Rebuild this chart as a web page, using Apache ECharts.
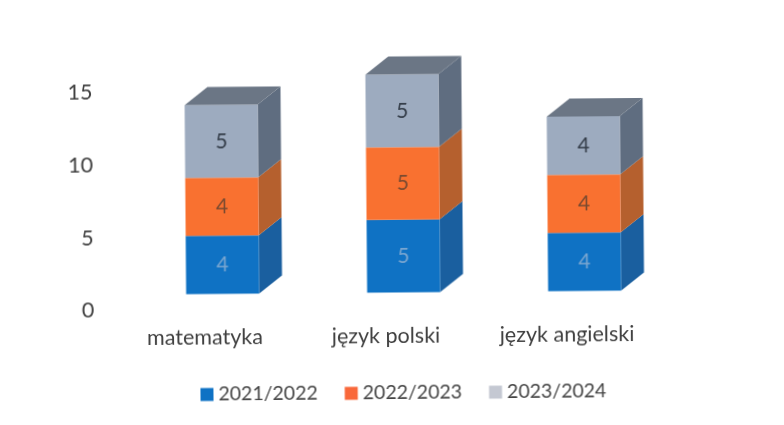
<!DOCTYPE html>
<html lang="pl" style="height: 100%">
<head>
<meta charset="utf-8">
<title>Wykres</title>
</head>
<body style="height: 100%; margin: 0; background: #fff">
<!-- the original is a slightly tilted scan -->
<div id="container" style="width: 784px; height: 425px; transform: rotate(-0.47deg)"></div>

<script type="text/javascript" src="https://cdn.jsdelivr.net/npm/echarts@6/dist/echarts.min.js"></script>
<script type="text/javascript">
var categories = ['matematyka', 'język polski', 'język angielski'];
var years = ['2021/2022', '2022/2023', '2023/2024'];
var values2122 = [4, 5, 4];
var values2223 = [4, 5, 4];
var values2324 = [5, 5, 4];

var seriesValues = [values2122, values2223, values2324];
var frontColors = ['#0f72c4', '#f97130', '#9dabbf'];
var sideColors = ['#1a5f9f', '#b5602e', '#5f6d80'];
var labelColors = ['#7aa6d0', '#7a4a30', '#333c48'];
var legendColors = ['#0f72c4', '#f9683a', '#c4c8d2'];
var topColor = '#6b7685';

var barWidth = 73;
var depthX = 23;
var depthY = 18;
var shiftX = 18;
var shiftY = 16;

var dom = document.getElementById('container');
var myChart = echarts.init(dom, null, { width: 784, height: 425 });

function box(idx) {
    return function (params, api) {
        var cat = api.value(0);
        var low = api.coord([cat, api.value(1)]);
        var high = api.coord([cat, api.value(2)]);
        var x0 = low[0] + shiftX - barWidth / 2;
        var x1 = x0 + barWidth;
        var y0 = low[1] - shiftY;
        var y1 = high[1] - shiftY;
        var kids = [
            {
                type: 'polygon',
                shape: { points: [[x1, y0], [x1 + depthX, y0 - depthY], [x1 + depthX, y1 - depthY], [x1, y1]] },
                style: { fill: sideColors[idx] }
            },
            {
                type: 'rect',
                shape: { x: x0, y: y1, width: barWidth, height: y0 - y1 },
                style: { fill: frontColors[idx] }
            },
            {
                type: 'text',
                style: {
                    x: (x0 + x1) / 2,
                    y: (y0 + y1) / 2,
                    text: String(api.value(2) - api.value(1)),
                    align: 'center',
                    verticalAlign: 'middle',
                    fill: labelColors[idx],
                    font: '21px Lato'
                }
            }
        ];
        if (idx === seriesValues.length - 1) {
            kids.push({
                type: 'polygon',
                shape: { points: [[x0, y1], [x0 + depthX, y1 - depthY], [x1 + depthX, y1 - depthY], [x1, y1]] },
                style: { fill: topColor }
            });
        }
        return { type: 'group', children: kids };
    };
}

var running = categories.map(function () { return 0; });
var series = seriesValues.map(function (vals, idx) {
    var rows = vals.map(function (v, c) {
        var row = [c, running[c], running[c] + v];
        running[c] += v;
        return row;
    });
    return {
        name: years[idx],
        type: 'custom',
        renderItem: box(idx),
        clip: false,
        itemStyle: { color: legendColors[idx] },
        encode: { x: 0, y: [1, 2] },
        data: rows
    };
});

var option = {
    backgroundColor: '#fff',
    animation: false,
    grid: { left: 113.5, width: 543, top: 90.5, bottom: 116.5 },
    legend: {
        data: years,
        left: 194,
        top: 378,
        icon: 'rect',
        itemWidth: 13,
        itemHeight: 13,
        itemGap: 27,
        textStyle: { fontFamily: 'Lato', fontSize: 19.5, color: '#444' }
    },
    xAxis: {
        type: 'category',
        data: categories,
        axisLine: { show: false },
        axisTick: { show: false },
        axisLabel: { fontFamily: 'Lato', fontSize: 21.5, color: '#404040', margin: 17 }
    },
    yAxis: {
        type: 'value',
        min: 0,
        max: 15,
        interval: 5,
        splitLine: { show: false },
        axisLine: { show: false },
        axisTick: { show: false },
        axisLabel: { fontFamily: 'Lato', fontSize: 21.5, color: '#404040', margin: 20 }
    },
    series: series
};

myChart.setOption(option);
window.addEventListener('resize', myChart.resize);
</script>
</body>
</html>
